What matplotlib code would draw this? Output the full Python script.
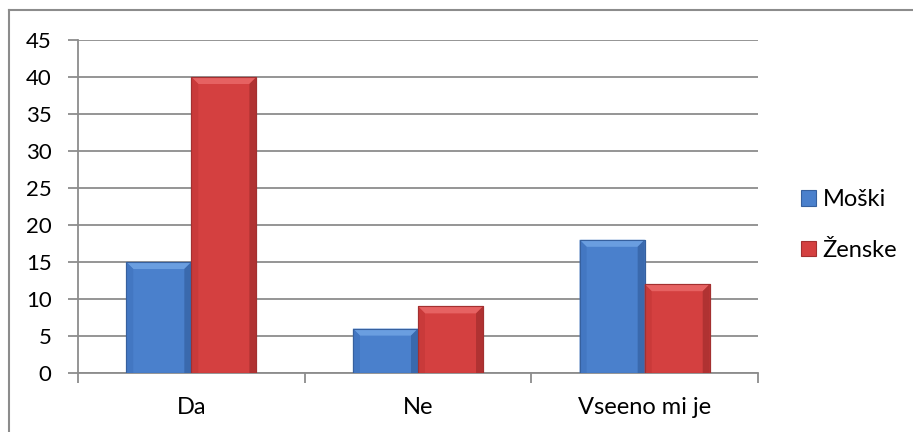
import matplotlib
matplotlib.use("Agg")
import matplotlib.pyplot as plt
from matplotlib.patches import Polygon, Patch
from matplotlib.lines import Line2D
import numpy as np

categories = ["Da", "Ne", "Vseeno mi je"]
series_names = ["Moški", "Ženske"]
moski = [15, 6, 18]
zenske = [40, 9, 12]
yticks = [0, 5, 10, 15, 20, 25, 30, 35, 40, 45]

plt.rcParams['font.family'] = ['Lato', 'DejaVu Sans']

W, H = 913, 432
fig = plt.figure(figsize=(W / 100, H / 100), dpi=100)
ax_l, ax_r, ax_t, ax_b = 78, 758, 40, 373
ax = fig.add_axes([ax_l / W, (H - ax_b) / H, (ax_r - ax_l) / W, (ax_b - ax_t) / H])

xlim = (-0.5, 2.5)
ylim = (0, 45)
ax.set_xlim(*xlim)
ax.set_ylim(*ylim)

gray = "#8c8c8c"
ax.set_yticks(yticks)
ax.yaxis.grid(True, color=gray, linewidth=1.3)
ax.set_axisbelow(True)
for s in ["top", "right"]:
    ax.spines[s].set_visible(False)
for s in ["left", "bottom"]:
    ax.spines[s].set_color(gray)
    ax.spines[s].set_linewidth(1.3)

ax.tick_params(axis="y", length=7, width=1.3, color=gray, labelsize=16, pad=12)
ax.set_xticks(range(len(categories)))
ax.set_xticklabels(categories)
ax.tick_params(axis="x", length=0, labelsize=17, pad=17)
ax.set_xticks(np.arange(-0.5, len(categories), 1.0), minor=True)
ax.tick_params(axis="x", which="minor", length=7, width=1.3, color=gray)

x = np.arange(len(categories))
bw = 0.287
palettes = [
    dict(face="#4a80cc", top="#6a9ee0", left="#4377c2", right="#3a69ad", edge="#36609e"),
    dict(face="#d44040", top="#e66262", left="#c93a3a", right="#b03232", edge="#a33030"),
]

px_x = (ax_r - ax_l) / (xlim[1] - xlim[0])
px_y = (ax_b - ax_t) / (ylim[1] - ylim[0])
d = 7.0
dx = d / px_x
dy = d / px_y

for i, (vals, pal) in enumerate(zip([moski, zenske], palettes)):
    offs = (i - 0.5) * bw
    bars = ax.bar(x + offs, vals, width=bw, color=pal["face"], edgecolor=pal["edge"],
                  linewidth=0.8, zorder=3)
    for b in bars:
        x0 = b.get_x()
        x1 = x0 + b.get_width()
        y1 = b.get_height()
        top = Polygon([(x0, y1), (x1, y1), (x1 - dx, y1 - dy), (x0 + dx, y1 - dy)],
                      closed=True, facecolor=pal["top"], edgecolor="none", zorder=4)
        left = Polygon([(x0, 0), (x0, y1), (x0 + dx, y1 - dy), (x0 + dx, 0)],
                       closed=True, facecolor=pal["left"], edgecolor="none", zorder=4)
        right = Polygon([(x1, 0), (x1, y1), (x1 - dx, y1 - dy), (x1 - dx, 0)],
                        closed=True, facecolor=pal["right"], edgecolor="none", zorder=4)
        for p in (top, left, right):
            ax.add_patch(p)
        ax.add_patch(Polygon([(x0, 0), (x1, 0), (x1, y1), (x0, y1)], closed=True,
                             facecolor="none", edgecolor=pal["edge"], linewidth=0.8, zorder=5))

handles = [Patch(facecolor=p["face"], edgecolor=p["edge"], linewidth=0.8) for p in palettes]
fig.legend(handles, series_names, loc="center left", bbox_to_anchor=(801 / W, (H - 225) / H),
           frameon=False, fontsize=17, handlelength=0.62, handleheight=0.62,
           handletextpad=0.3, labelspacing=1.25, borderaxespad=0, borderpad=0)

# outer chart border
fig.add_artist(Line2D([9 / W, 1.0], [1 - 10 / H, 1 - 10 / H], transform=fig.transFigure,
                      color=gray, linewidth=1.5))
fig.add_artist(Line2D([9 / W, 9 / W], [1 - 10 / H, 0], transform=fig.transFigure,
                      color=gray, linewidth=1.5))

fig.savefig("out.png", dpi=100)
